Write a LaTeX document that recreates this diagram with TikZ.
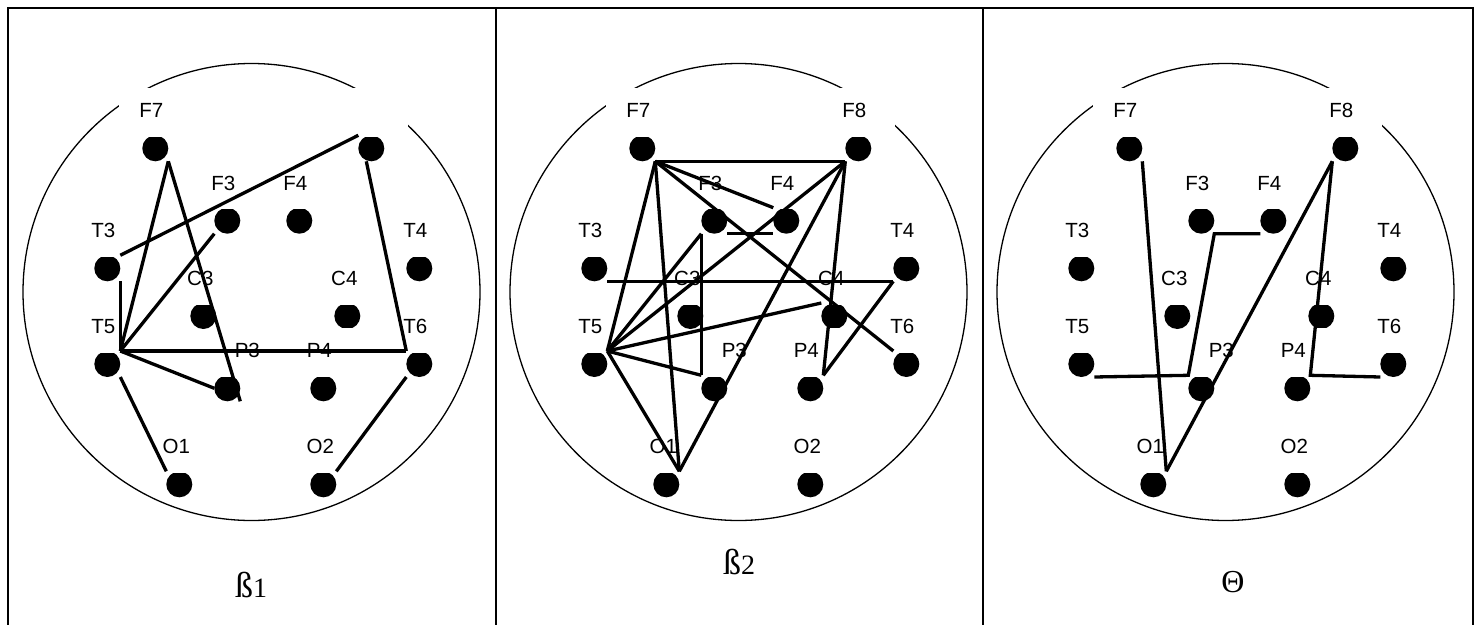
\documentclass[tikz,border=0pt]{standalone}
\usepackage{fontspec}
\setmainfont{Liberation Serif}
\newfontfamily\lblfont{Liberation Sans}
\newcommand\myelec[7]{%
  % #1 prefix, #2 name, #3 x, #4 y, #5 label text, #6 label dx
  \node[anc] (#1#2) at ({#3},{#4}) {};
  \fill[black] (#1#2) circle[radius=13pt];
  \fill[white] ({#3+min(-14,#6-32)},{#4-60}) rectangle ({#3+#6+41},{#4-11.5});
  \node[lbl] (#1#2L) at ({#3+#6},{#4-37.5}) {#5};
}
\newcommand\mypanel[3]{%
  \draw[headline] ({251.5+#2},292) circle[radius=228.5pt];
  \myelec{#1}{F7}{155.3+#2}{148.3}{F7}{-4}{}
  \myelec{#1}{F8}{371.3+#2}{148.3}{#3}{-4}{}
  \myelec{#1}{F3}{227.3+#2}{220.7}{F3}{-4}{}
  \myelec{#1}{F4}{299.3+#2}{220.7}{F4}{-4}{}
  \myelec{#1}{T3}{107.3+#2}{268.3}{T3}{-4}{}
  \myelec{#1}{T4}{419.3+#2}{268.3}{T4}{-4}{}
  \myelec{#1}{C3}{203.3+#2}{316}{C3}{-3}{}
  \myelec{#1}{C4}{347.3+#2}{316}{C4}{-3}{}
  \myelec{#1}{T5}{107.3+#2}{364}{T5}{-4}{}
  \myelec{#1}{T6}{419.3+#2}{364}{T6}{-4}{}
  \myelec{#1}{P3}{227.3+#2}{388.3}{P3}{20}{}
  \myelec{#1}{P4}{323.3+#2}{388.3}{P4}{-4}{}
  \myelec{#1}{O1}{179.3+#2}{484.3}{O1}{-3}{}
  \myelec{#1}{O2}{323.3+#2}{484.3}{O2}{-3}{}
}
\begin{document}
\begin{tikzpicture}[x=1pt,y=-1pt,
  anc/.style={rectangle,minimum size=26pt,inner sep=0pt,outer sep=0pt,draw=none},
  lbl/.style={inner sep=0pt,font=\lblfont\fontsize{20.5}{24}\selectfont},
  headline/.style={line width=1.3pt,black},
  wire/.style={line width=3.3pt,black},
  framel/.style={line width=2pt,black},
  captext/.style={inner sep=0pt,anchor=base}]
\useasboundingbox (0,0) rectangle (1480,624);
\fill[white] (0,0) rectangle (1480,624);
% frame
\draw[framel] (8,630) -- (8,8) -- (1472.7,8) -- (1472.7,630);
\draw[framel] (496,8) -- (496,630);
\draw[framel] (983,8) -- (983,630);
% panels
\mypanel{a}{0}{}
\mypanel{b}{487}{F8}
\mypanel{c}{974}{F8}
% panel 1 connections
\draw[wire] (aT3.north east) -- (aF8.north west);
\draw[wire] ([xshift=-5pt]aF8.south) -- (aT6.north west);
\draw[wire] (aF7.south east) -- (aT5.north east);
\draw[wire] (aF7.south east) -- (aP3.south east);
\draw[wire] (aF3.south west) -- (aT5.north east);
\draw[wire] (aT3.south east) -- (aT5.north east);
\draw[wire] (aT5.north east) -- (aT6.north west);
\draw[wire] (aT5.north east) -- (aP3.west);
\draw[wire] (aT5.south east) -- (aO1.north west);
\draw[wire] (aT6.south west) -- (aO2.north east);
% panel 2 connections
\draw[wire] (bF7.south east) -- (bF8.south west);
\draw[wire] (bF7.south east) -- (bF4.north west);
\draw[wire] (bF7.south east) -- (bT6.north west);
\draw[wire] (bF7.south east) -- (bO1.north east);
\draw[wire] (bF7.south east) -- (bT5.north east);
\draw[wire] (bF8.south west) -- (bT5.north east);
\draw[wire] (bF8.south west) -- (bO1.north east);
\draw[wire] (bF8.south west) -- (bP4.north east);
\draw[wire] (bF3.south east) -- (bF4.south west);
\draw[wire] (bF3.south west) -- (bP3.north west);
\draw[wire] (bF3.south west) -- (bT5.north east);
\draw[wire] (bT5.north east) -- (bP3.north west);
\draw[wire] (bT5.north east) -- (bC4.north west);
\draw[wire] (bT5.north east) -- (bO1.north east);
\draw[wire] (bT3.south east) -- (bT4.south west);
\draw[wire] (bT4.south west) -- (bP4.north east);
% panel 3 connections
\draw[wire] (cT5.south east) -- (cP3.north west) -- (cF3.south east) -- (cF4.south west);
\draw[wire] (cF7.south east) -- (cO1.north east);
\draw[wire] (cF8.south west) -- (cO1.north east);
\draw[wire] (cF8.south west) -- (cP4.north east) -- (cT6.south west);
% captions
\node[captext] (capA) at (251,597) {{\fontsize{36}{38}\selectfont ß}{\fontsize{28}{30}\selectfont 1}};
\node[captext] (capB) at (739,574) {{\fontsize{36}{38}\selectfont ß}{\fontsize{28}{30}\selectfont 2}};
\node[captext] (capC) at (1233,592) {\fontsize{32}{34}\selectfont Θ};
\end{tikzpicture}
\end{document}
